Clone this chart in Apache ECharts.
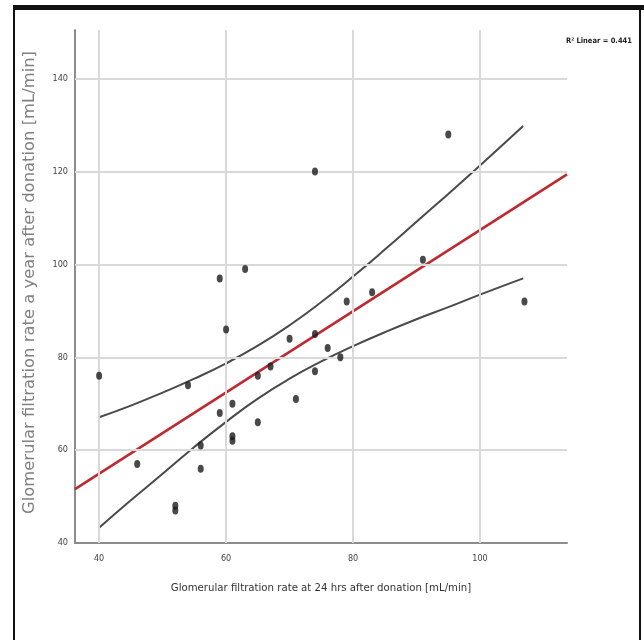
<!DOCTYPE html>
<html>
<head>
<meta charset="utf-8">
<script src="https://cdn.jsdelivr.net/npm/echarts@6/dist/echarts.min.js"></script>
<style>
html,body{margin:0;padding:0;background:#fff;}
#chart{width:644px;height:640px;}
</style>
</head>
<body>
<div id="chart"></div>
<script>
// GFR at 24 hrs after donation (x) and a year after donation (y), mL/min
const gfr24h = [40, 46, 52, 52, 54, 56, 56, 59, 59, 60, 61, 61, 61, 63, 65, 65, 67, 70, 71, 74, 74, 74, 76, 78, 79, 83, 91, 95, 107];
const gfr1y  = [76, 57, 48, 47, 74, 61, 56, 97, 68, 86, 70, 63, 62, 99, 76, 66, 78, 84, 71, 120, 85, 77, 82, 80, 92, 94, 101, 128, 92];

// linear fit line (at the axis ends)
const fitX = [36.2, 113.7];
const fitY = [51.6, 119.4];

// 95% confidence band of the fit
const ciX     = [40, 45, 50, 55, 60, 65, 70, 75, 80, 85, 90, 95, 100, 106.8];
const ciUpper = [67.1, 69.6, 72.4, 75.4, 78.7, 82.5, 86.9, 91.9, 97.4, 103.2, 109.2, 115.2, 121.3, 129.8];
const ciLower = [43.3, 49.2, 54.9, 60.7, 66.1, 71.1, 75.4, 79.1, 82.4, 85.4, 88.2, 90.8, 93.5, 97.0];

const xTicks = [40, 60, 80, 100];
const yTicks = [40, 60, 80, 100, 120, 140];
const xRange = [36.2, 113.7];
const yRange = [40, 150.5];

const xTitle = 'Glomerular filtration rate at 24 hrs after donation [mL/min]';
const yTitle = 'Glomerular filtration rate a year after donation [mL/min]';
const r2Label = 'R\u00b2 Linear = 0.441';

const narrow = "'Liberation Sans Narrow', 'DejaVu Sans Condensed', 'Arial Narrow', sans-serif";

const chart = echarts.init(document.getElementById('chart'), null, {renderer: 'canvas'});

const gridLines = xTicks.map(v => ({xAxis: v})).concat(
  yTicks.filter(v => v > yRange[0]).map(v => ({yAxis: v}))
);

const option = {
  animation: false,
  backgroundColor: '#ffffff',
  grid: {left: 75, right: 77, top: 30, bottom: 97, containLabel: false},
  xAxis: {
    type: 'value',
    min: xRange[0],
    max: xRange[1],
    name: xTitle,
    nameLocation: 'middle',
    nameGap: 40,
    nameTextStyle: {color: '#333', fontSize: 11.3, fontFamily: narrow},
    axisLine: {show: true, onZero: false, lineStyle: {color: '#8c8c8c', width: 2}},
    axisTick: {show: false, customValues: xTicks},
    axisLabel: {customValues: xTicks, color: '#444', fontSize: 9, fontFamily: narrow, margin: 11},
    splitLine: {show: false}
  },
  yAxis: {
    type: 'value',
    min: yRange[0],
    max: yRange[1],
    name: yTitle,
    nameLocation: 'middle',
    nameRotate: 90,
    nameGap: 37,
    nameTextStyle: {color: '#808080', fontSize: 16.4, fontFamily: "'DejaVu Sans', sans-serif", padding: [0, 0, 0, 8]},
    axisLine: {show: true, onZero: false, lineStyle: {color: '#8c8c8c', width: 2}},
    axisTick: {show: false, customValues: yTicks},
    axisLabel: {customValues: yTicks, color: '#444', fontSize: 9, fontFamily: narrow, margin: 7},
    splitLine: {show: false}
  },
  series: [
    {
      type: 'line',
      data: [],
      z: 1,
      silent: true,
      markLine: {
        silent: true,
        symbol: ['none', 'none'],
        label: {show: false},
        lineStyle: {color: '#d9d9d9', width: 2, type: 'solid'},
        data: gridLines
      }
    },
    {
      type: 'line',
      name: 'upper',
      data: ciX.map((x, i) => [x, ciUpper[i]]),
      smooth: true,
      showSymbol: false,
      z: 3,
      lineStyle: {color: '#4a4a4a', width: 2}
    },
    {
      type: 'line',
      name: 'lower',
      data: ciX.map((x, i) => [x, ciLower[i]]),
      smooth: true,
      showSymbol: false,
      z: 3,
      lineStyle: {color: '#4a4a4a', width: 2}
    },
    {
      type: 'line',
      name: 'fit',
      data: fitX.map((x, i) => [x, fitY[i]]),
      showSymbol: false,
      z: 4,
      lineStyle: {color: '#c1272d', width: 2.5}
    },
    {
      type: 'scatter',
      name: 'donors',
      data: gfr24h.map((x, i) => [x, gfr1y[i]]),
      symbol: 'circle',
      symbolSize: [6, 8],
      z: 5,
      itemStyle: {color: '#1c1c1c'}
    }
  ],
  graphic: [
    {type: 'rect', shape: {x: 14, y: 5, width: 630, height: 5}, style: {fill: '#111'}, silent: true},
    {type: 'rect', shape: {x: 13, y: 5, width: 2, height: 640}, style: {fill: '#111'}, silent: true},
    {type: 'rect', shape: {x: 639, y: 5, width: 2, height: 640}, style: {fill: '#111'}, silent: true},
    {
      type: 'text',
      right: 12,
      top: 37,
      style: {text: r2Label, fill: '#222', fontSize: 7.5, fontFamily: narrow, fontWeight: 'bold'},
      silent: true
    }
  ]
};

chart.setOption(option);
</script>
</body>
</html>
